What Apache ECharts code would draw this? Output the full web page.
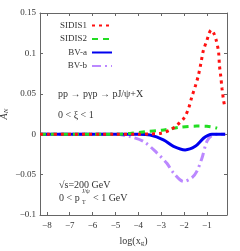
<!DOCTYPE html>
<html><head><meta charset="utf-8">
<script src="https://cdn.jsdelivr.net/npm/echarts@6/dist/echarts.min.js"></script>
<style>html,body{margin:0;padding:0;background:#fff}#c{width:240px;height:251px}</style>
</head><body><div id="c"></div>
<script>
var xTicks = [-8, -7, -6, -5, -4, -3, -2, -1];
var yTicks = [-0.1, -0.05, 0, 0.05, 0.1, 0.15];
var seriesNames = ['SIDIS1', 'SIDIS2', 'BV-a', 'BV-b'];
var sidis1X = [-8.3, -5, -4, -3.5, -3, -2.6, -2.3, -2, -1.8, -1.66, -1.5, -1.37, -1.26, -1.15, -1.0, -0.9, -0.81, -0.7, -0.59, -0.49, -0.45, -0.39, -0.34, -0.27, -0.2];
var sidis1Y = [0, 0, 0, 0.0003, 0.0012, 0.0053, 0.0115, 0.020, 0.032, 0.046, 0.060, 0.073, 0.088, 0.104, 0.116, 0.125, 0.129, 0.125, 0.116, 0.102, 0.085, 0.071, 0.057, 0.042, 0.032];
var sidis2X = [-8.3, -5, -4.36, -3.7, -2.97, -2.17, -1.44, -1.0, -0.71, -0.55];
var sidis2Y = [0, 0, 0.001, 0.003, 0.005, 0.0086, 0.010, 0.0098, 0.0086, 0.0075];
var bvaX = [-8.3, -4, -3.48, -2.9, -2.46, -1.95, -1.51, -1.15, -0.95, -0.78, -0.2];
var bvaY = [0, 0, -0.001, -0.007, -0.015, -0.0194, -0.015, -0.005, -0.0015, 0, 0];
var bvbX = [-8.3, -5, -4.36, -3.77, -3.19, -2.75, -2.46, -2.02, -1.66, -1.44, -1.22, -1.0, -0.78, -0.42, -0.2];
var bvbY = [0, 0, -0.003, -0.009, -0.023, -0.036, -0.048, -0.0585, -0.054, -0.046, -0.030, -0.009, -0.0017, 0, 0];

function pairs(xs, ys) { return xs.map(function (x, i) { return [x, ys[i]]; }); }
function fmt(v) { var s = String(Math.round(v * 100) / 100); return s.replace('-', '\u2212'); }

var font = 'Liberation Serif';
var axisCol = '#666';
var chart = echarts.init(document.getElementById('c'), null, { renderer: 'canvas' });
var xBase = { type: 'value', min: -8.3, max: -0.12, splitLine: { show: false },
  axisLine: { show: true, onZero: false, lineStyle: { color: axisCol, width: 1 } },
  axisTick: { show: true, inside: true, length: 3, customValues: xTicks, lineStyle: { color: axisCol } } };
var yBase = { type: 'value', min: -0.1, max: 0.15, interval: 0.05, splitLine: { show: false },
  axisLine: { show: true, onZero: false, lineStyle: { color: axisCol, width: 1 } },
  axisTick: { show: true, inside: true, length: 3, lineStyle: { color: axisCol } } };

function mk(name, xs, ys, color, type) {
  return { name: name, type: 'line', data: pairs(xs, ys), symbol: 'none', showSymbol: false, smooth: 0.3,
    lineStyle: { color: color, width: 3, type: type }, itemStyle: { color: color } };
}

chart.setOption({
  animation: false,
  grid: { left: 40, right: 13, top: 13, bottom: 36, containLabel: false, outerBoundsMode: 'none' },
  xAxis: [
    Object.assign({}, xBase, { position: 'bottom',
      name: 'log(x{sub|g})', nameLocation: 'middle', nameGap: 20, nameMoveOverlap: false,
      nameTextStyle: { fontFamily: font, fontSize: 10, color: '#333', rich: { sub: { fontSize: 7, fontFamily: font, padding: [5, 0, 0, 0], color: '#333' } } },
      axisLabel: { customValues: xTicks, formatter: fmt, fontFamily: font, fontSize: 9, color: '#333', margin: 6 } }),
    Object.assign({}, xBase, { position: 'top', axisLabel: { show: false } })
  ],
  yAxis: [
    Object.assign({}, yBase, { position: 'left',
      name: 'A{sub|N}', nameLocation: 'middle', nameGap: 30, nameRotate: 90, nameMoveOverlap: false,
      nameTextStyle: { fontFamily: font, fontSize: 10, fontStyle: 'italic', color: '#333', rich: { sub: { fontSize: 7, fontFamily: font, fontStyle: 'italic', padding: [5, 0, 0, 0], color: '#333' } } },
      axisLabel: { formatter: fmt, fontFamily: font, fontSize: 9, color: '#333', margin: 4 } }),
    Object.assign({}, yBase, { position: 'right', axisLabel: { show: false } })
  ],
  legend: {
    orient: 'vertical', right: 122, top: 16, align: 'right', itemWidth: 20, itemHeight: 10, itemGap: 4.5,
    textStyle: { fontFamily: font, fontSize: 9, color: '#333' },
    itemStyle: { opacity: 0 },
    data: seriesNames
  },
  series: [
    mk(seriesNames[3], bvbX, bvbY, '#bb88ff', [9, 4, 2, 4]),
    mk(seriesNames[2], bvaX, bvaY, '#0000ee', 'solid'),
    mk(seriesNames[1], sidis2X, sidis2Y, '#22dd22', [6, 5]),
    mk(seriesNames[0], sidis1X, sidis1Y, '#ff1111', [3, 4])
  ],
  graphic: [
    { type: 'text', left: 58, top: 89, style: { text: 'pp \u2192 p\u03b3p \u2192 pJ/\u03c8+X', fontFamily: font, fontSize: 10, fill: '#333' } },
    { type: 'text', left: 58, top: 110, style: { text: '0 < \u03be < 1', fontFamily: font, fontSize: 10, fill: '#333' } },
    { type: 'text', left: 59, top: 180, style: { text: '\u221as=200 GeV', fontFamily: font, fontSize: 10, fill: '#333' } },
    { type: 'text', left: 59, top: 193, style: { text: '0 < p', fontFamily: font, fontSize: 10, fill: '#333' } },
    { type: 'text', left: 82, top: 199, style: { text: 'T', fontFamily: font, fontSize: 6, fill: '#333' } },
    { type: 'text', left: 82, top: 188, style: { text: 'J/\u03c8', fontFamily: font, fontSize: 6, fill: '#333' } },
    { type: 'text', left: 93, top: 193, style: { text: '< 1 GeV', fontFamily: font, fontSize: 10, fill: '#333' } }
  ]
});
</script></body></html>
